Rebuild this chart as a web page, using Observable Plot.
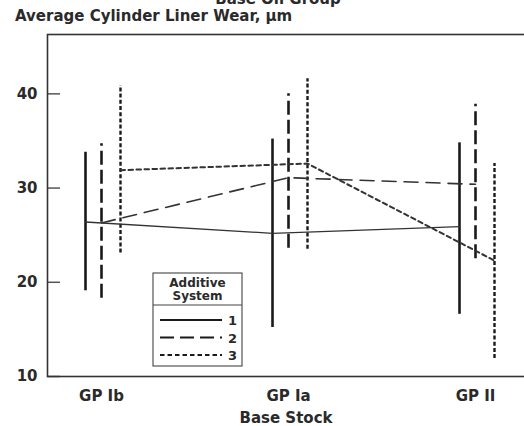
<!DOCTYPE html>
<html>
<head>
<meta charset="utf-8">
<script src="https://cdn.jsdelivr.net/npm/d3@7"></script>
<script src="https://cdn.jsdelivr.net/npm/@observablehq/plot@0.6"></script>
<style>
  html, body { margin: 0; padding: 0; background: #fff; }
  #chart { width: 524px; height: 426px; overflow: hidden; }
</style>
</head>
<body>
<div id="chart"></div>
<script>
// ---- data ----
const categories = ["GP Ib", "GP Ia", "GP II"];
const yTicks = [10, 20, 30, 40];
const seriesNames = ["1", "2", "3"];

const mean1 = [26.4, 25.2, 25.9];
const low1  = [19.1, 15.2, 16.6];
const high1 = [33.8, 35.2, 34.8];

const mean2 = [26.3, 31.1, 30.4];
const low2  = [18.3, 23.6, 22.5];
const high2 = [34.7, 40.0, 38.9];

const mean3 = [31.9, 32.6, 22.3];
const low3  = [23.1, 23.5, 11.9];
const high3 = [40.9, 41.6, 32.6];

const titleText = "Average Cylinder Liner Wear, \u00b5m";
const topText = "Base Oil Group";
const xLabel = "Base Stock";
const legendTitle = ["Additive", "System"];

// ---- build tables ----
function rows(means, lows, highs) {
  return categories.map((c, i) => ({cat: c, mean: means[i], low: lows[i], high: highs[i]}));
}
const s1 = rows(mean1, low1, high1);
const s2 = rows(mean2, low2, high2);
const s3 = rows(mean3, low3, high3);

const styles = [
  {data: s1, dx: -16, line: {strokeWidth: 1.3}, bar: {strokeWidth: 2.6}},
  {data: s2, dx: 0, line: {strokeWidth: 1.6, strokeDasharray: "14,8"}, bar: {strokeWidth: 2.6, strokeDasharray: "14,5"}},
  {data: s3, dx: 19, line: {strokeWidth: 2, strokeDasharray: "4.5,3.5"}, bar: {strokeWidth: 2.4, strokeDasharray: "4,2.2"}}
];

const marks = [];
styles.forEach(s => {
  marks.push(Plot.ruleX(s.data, {x: "cat", y1: "low", y2: "high", dx: s.dx, stroke: "#1a1a1a", ...s.bar}));
});
styles.forEach(s => {
  marks.push(Plot.line(s.data, {x: "cat", y: "mean", dx: s.dx, stroke: "#333", ...s.line}));
});

const font = "DejaVu Sans";

const chart = Plot.plot({
  width: 524,
  height: 426,
  marginTop: 34,
  marginLeft: 47,
  marginRight: -4,
  marginBottom: 50,
  style: {fontFamily: font, fontSize: "15px", fontWeight: "bold", color: "#2a2a2a", background: "#fff"},
  x: {type: "point", domain: categories, padding: 0.28, label: null},
  y: {domain: [10, 46.3], label: null},
  marks: [
    Plot.axisY({ticks: yTicks, tickSize: -13, tickPadding: 23, stroke: "#555", strokeWidth: 1.5, fontSize: 15, fontWeight: "bold", label: null}),
    Plot.axisX({tickSize: 0, tickPadding: 14, fontSize: 15, fontWeight: "bold", label: null}),
    Plot.frame({stroke: "#333", strokeWidth: 1.6}),
    ...marks
  ]
});

document.getElementById("chart").appendChild(chart);

// ---- titles and legend ----
const svg = d3.select(chart);
const g = svg.append("g").attr("font-family", font).attr("font-weight", "bold").attr("fill", "#2a2a2a");

g.append("text").attr("x", 15).attr("y", 21).attr("text-anchor", "start").attr("font-size", 15).text(titleText);
g.append("text").attr("x", 278).attr("y", 4).attr("text-anchor", "middle").attr("font-size", 15).text(topText);
g.append("text").attr("x", 286).attr("y", 423).attr("text-anchor", "middle").attr("font-size", 15).text(xLabel);

// legend
const lg = svg.append("g").attr("font-family", font).attr("font-weight", "bold");
lg.append("rect").attr("x", 153).attr("y", 273).attr("width", 89).attr("height", 93)
  .attr("fill", "#fff").attr("stroke", "#444").attr("stroke-width", 1.1);
lg.append("line").attr("x1", 153).attr("x2", 242).attr("y1", 305).attr("y2", 305)
  .attr("stroke", "#444").attr("stroke-width", 1.1);
legendTitle.forEach((t, i) => {
  lg.append("text").attr("x", 197.5).attr("y", 287 + i * 12.5).attr("text-anchor", "middle")
    .attr("font-size", 12).attr("fill", "#2a2a2a").text(t);
});
seriesNames.forEach((name, i) => {
  const y = 320 + i * 17.5;
  lg.append("line").attr("x1", 160).attr("x2", 222).attr("y1", y).attr("y2", y)
    .attr("stroke", "#1a1a1a").attr("stroke-width", 2)
    .attr("stroke-dasharray", i === 0 ? null : (i === 1 ? "14,6" : "4.5,3"));
  lg.append("text").attr("x", 228).attr("y", y + 5).attr("text-anchor", "start")
    .attr("font-size", 13).attr("fill", "#2a2a2a").text(name);
});
</script>
</body>
</html>
